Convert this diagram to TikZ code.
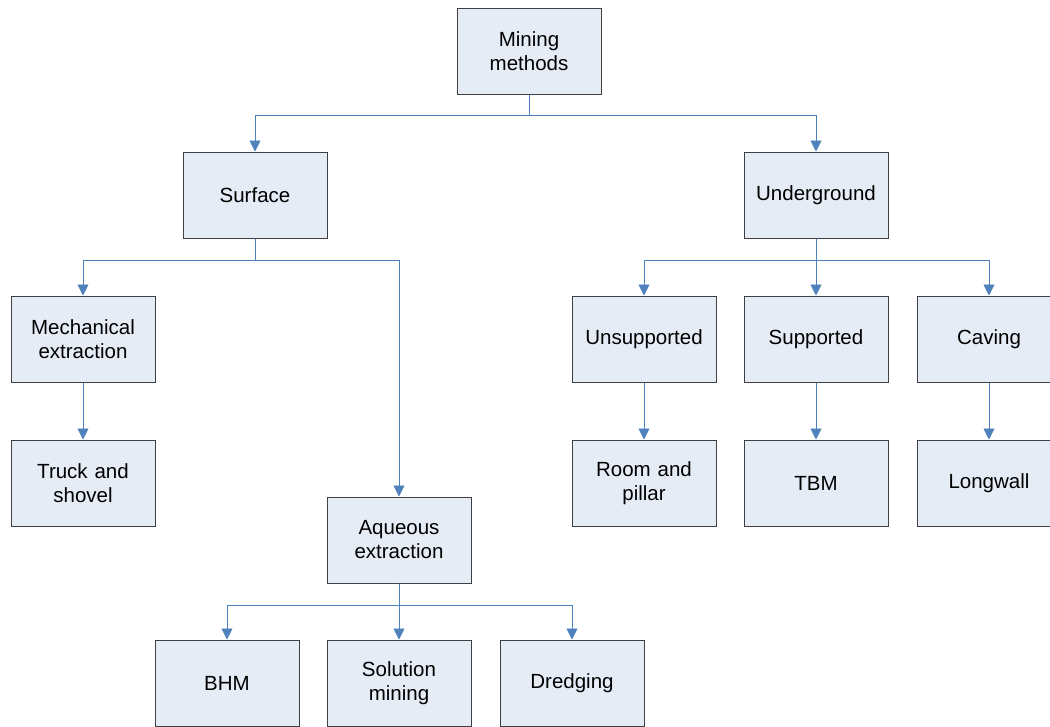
\documentclass[tikz,border=0pt]{standalone}
\usepackage{fontspec}
\setmainfont{Liberation Sans}
\usetikzlibrary{positioning, arrows.meta}
\definecolor{boxfill}{HTML}{E6ECF6}
\definecolor{boxline}{HTML}{404040}
\definecolor{linkblue}{HTML}{4F81BD}

\begin{document}
\begin{tikzpicture}[x=1pt, y=-1pt,
rect/.style={
  rectangle, draw=boxline, line width=1pt,
  fill=boxfill,
  minimum width=144pt, minimum height=86pt,
  text width=136pt, align=center,
  font=\fontsize{20.5}{24}\selectfont
},
link/.style={
  draw=linkblue, line width=0.9pt,
  -{Triangle[length=11pt, width=11pt]}
}]
\useasboundingbox (0,0) rectangle (1050,726);
\clip (0,0) rectangle (1050,726);

% top level
\node (mining) [rect] at (529,51) {Mining\\methods};
\node (surface) [rect] at (255,195) {Surface};
\node (underground) [rect] at (816,195) {Underground};

% surface branch
\node (mech) [rect] at (83,339) {Mechanical\\extraction};
\node (truck) [rect, below=57pt of mech] {Truck and\\shovel};
\node (aqueous) [rect] at (399,540) {Aqueous\\extraction};
\node (bhm) [rect] at (227,683) {BHM};
\node (solution) [rect] at (399,683) {Solution\\mining};
\node (dredging) [rect] at (572,683) {Dredging};

% underground branch
\node (unsup) [rect] at (644,339) {Unsupported};
\node (sup) [rect] at (816,339) {Supported};
\node (caving) [rect] at (989,339) {Caving};
\node (room) [rect, below=57pt of unsup] {Room and\\pillar};
\node (tbm) [rect, below=57pt of sup] {TBM};
\node (longwall) [rect, below=57pt of caving] {Longwall};

% connectors
\coordinate (minbus) at (529,115);
\coordinate (surbus) at (255,260);
\coordinate (undbus) at (816,260);
\coordinate (aqbus) at (399,605);

\draw[link] (mining.south) -- (minbus) -| (surface.north);
\draw[link] (mining.south) -- (minbus) -| (underground.north);

\draw[link] (surface.south) -- (surbus) -| (mech.north);
\draw[link] (surface.south) -- (surbus) -| (aqueous.north);
\draw[link] (mech) -- (truck);

\draw[link] (aqueous.south) -- (aqbus) -| (bhm.north);
\draw[link] (aqueous) -- (solution);
\draw[link] (aqueous.south) -- (aqbus) -| (dredging.north);

\draw[link] (underground.south) -- (undbus) -| (unsup.north);
\draw[link] (underground) -- (sup);
\draw[link] (underground.south) -- (undbus) -| (caving.north);

\draw[link] (unsup) -- (room);
\draw[link] (sup) -- (tbm);
\draw[link] (caving) -- (longwall);
\end{tikzpicture}
\end{document}
